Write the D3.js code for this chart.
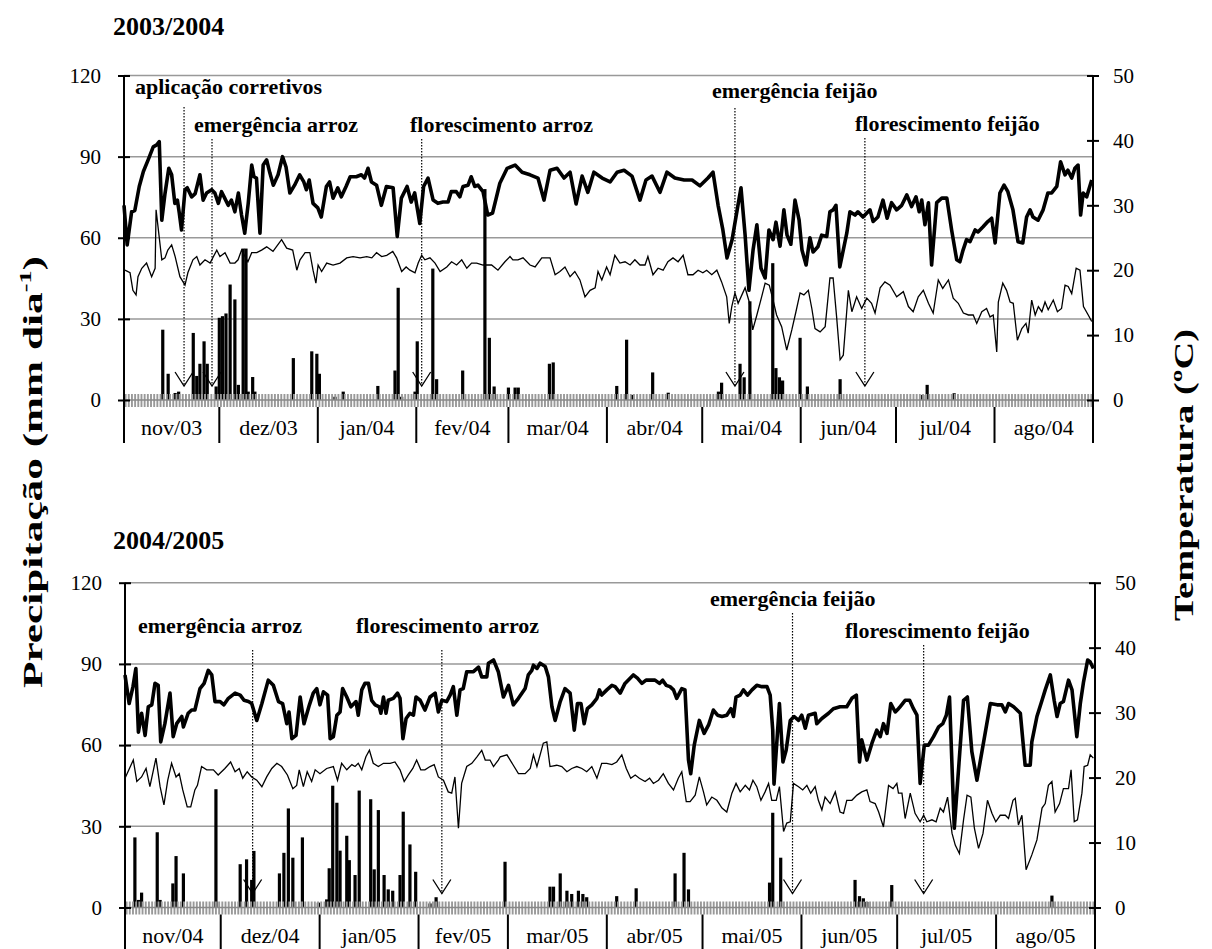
<!DOCTYPE html>
<html>
<head>
<meta charset="utf-8">
<script src="https://cdn.jsdelivr.net/npm/d3@7"></script>
<style>
  body { margin: 0; background: #fff; }
  text { font-family: "Liberation Serif", "Times New Roman", serif; fill: #000; }
</style>
</head>
<body>
<svg id="chart" width="1212" height="949"></svg>
<script>
// tick labels
const rainTicks = [0, 30, 60, 90, 120];
const tempTicks = [0, 10, 20, 30, 40, 50];
const months1 = ['nov/03', 'dez/03', 'jan/04', 'fev/04', 'mar/04', 'abr/04', 'mai/04', 'jun/04', 'jul/04', 'ago/04'];
const months2 = ['nov/04', 'dez/04', 'jan/05', 'fev/05', 'mar/05', 'abr/05', 'mai/05', 'jun/05', 'jul/05', 'ago/05'];

// 2003/2004 - [day since 1 Nov, value]
const tmax1 = [[0,30.0],[1,23.9],[2.4,29.0],[3.4,29.2],[4.8,32.9],[6.1,35.2],[7.6,37.0],[9.2,39.0],[10.3,39.3],[11.1,39.8],[11.9,27.7],[12.9,31.8],[14.1,35.7],[15,34.7],[16,30.3],[16.8,30.8],[17.4,28.8],[18.1,26.2],[19.2,32.4],[19.9,32.7],[21.3,31.3],[22.4,31.8],[23.9,34.7],[24.9,30.8],[26,31.9],[27.6,32.4],[28.6,31.9],[29.7,30.3],[30.7,32.1],[31.7,31.1],[32.8,30.0],[33.8,30.8],[34.9,29.0],[36,31.9],[37,28.5],[38,25.7],[39.1,30.3],[40.2,36.2],[40.9,34.4],[41.7,34.2],[42.8,25.7],[43.8,36.2],[44.9,37.0],[45.9,35.0],[47,33.1],[48.5,34.7],[49.9,37.5],[51,35.9],[52.2,31.9],[53.7,33.1],[55.3,34.7],[56.6,33.6],[57.4,32.4],[58.3,33.9],[59.5,30.3],[61,29.6],[62.1,28.2],[63.7,32.9],[64.7,33.6],[65.8,31.1],[67.3,32.7],[68.4,31.3],[69.9,32.9],[71.2,34.4],[73.1,34.4],[74.7,34.7],[75.7,34.2],[76.8,35.7],[77.9,33.6],[79.5,33.1],[81,30.0],[82.6,32.9],[84.7,32.7],[86,25.2],[87.3,31.1],[89.1,32.9],[90.4,30.5],[91.5,31.9],[93.1,27.2],[94.3,32.9],[95.7,34.2],[97.3,30.8],[98.8,30.3],[100.4,30.5],[102,30.5],[103,32.1],[104.6,32.1],[105.7,31.3],[106.7,32.9],[108.3,33.1],[109.3,34.4],[110.4,32.9],[111.4,33.1],[113,32.1],[114.5,28.5],[116,28.8],[118.3,33.4],[120.6,35.7],[123.1,36.2],[125.3,35.1],[127.8,34.7],[130.3,34.2],[132.2,30.8],[134.1,35.4],[136.3,35.7],[138.5,34.2],[140.4,35.1],[142.3,30.2],[144.2,34.5],[146,32.0],[147.9,35.1],[150.5,34.2],[153,33.6],[155.2,35.1],[157.4,35.4],[159.9,34.5],[162.4,30.8],[164.3,33.9],[166.2,34.5],[168.7,32.0],[170.9,35.1],[173.4,34.2],[176.3,33.9],[178.8,33.9],[181.3,33.0],[183.8,34.2],[185.4,35.1],[187,30.0],[188.5,26.2],[189.8,21.9],[191.4,24.7],[193,29.3],[194.2,32.7],[195.5,25.4],[196.7,16.9],[198,23.1],[199.2,27.0],[200.5,20.3],[201.8,18.8],[203,26.2],[204.3,24.7],[205.2,27.4],[206.5,23.7],[207.7,29.3],[208.7,25.4],[209.9,24.0],[211.2,30.8],[212.5,27.7],[213.4,23.1],[214.7,20.8],[215.9,25.0],[216.9,22.8],[218.4,23.6],[219.6,25.4],[221.2,25.2],[222.2,29.0],[223.2,29.3],[224.1,30.0],[225.3,20.5],[227.5,25.7],[228.5,29.0],[230.1,28.5],[231,29.0],[232.6,28.2],[234.8,29.3],[235.8,27.5],[237.3,28.2],[238.9,30.8],[240.2,28.0],[241.6,30.4],[243.2,29.3],[244.8,30.0],[246.4,31.6],[247.9,29.8],[249.3,31.3],[250.3,29.0],[251.1,30.8],[252.1,27.0],[253.2,30.4],[254.2,20.8],[255.8,30.4],[257.4,31.1],[259,31.1],[260.5,26.2],[262.1,21.6],[263.1,21.3],[264.1,23.1],[265.2,24.7],[266.3,24.4],[267.9,26.2],[268.8,25.9],[270.4,26.7],[271.9,27.5],[273.1,28.0],[274.2,24.2],[275.7,31.9],[277,33.1],[278.2,32.1],[279.8,29.3],[281.4,24.4],[282.9,24.2],[284.1,28.2],[285.2,29.3],[286.1,28.2],[287.7,27.7],[289.3,29.3],[290.8,31.9],[292,31.9],[293.6,32.9],[294.8,36.7],[296.2,34.7],[297.1,35.4],[298.3,34.2],[299.3,35.7],[300.3,36.2],[301.1,28.5],[301.9,31.9],[303,31.3],[304.6,33.9]];
const tmin1 = [[0.3,20.0],[1.9,19.6],[2.8,16.9],[3.8,16.2],[4.4,19.0],[5.6,20.3],[7.1,21.1],[8.7,19.0],[9.8,20.3],[10.1,29.3],[11.9,21.6],[12.9,21.9],[13.8,23.1],[15,23.9],[16.1,22.1],[17.6,19.0],[19.2,17.7],[20.1,19.6],[21.7,21.6],[22.9,22.1],[23.9,20.8],[25.5,21.6],[27.1,21.1],[29.2,23.1],[30.2,22.1],[31.8,22.7],[33.4,21.1],[34.9,21.1],[35.9,21.6],[37,23.1],[39,21.3],[40.2,22.7],[41.8,22.7],[43.3,23.1],[44.9,23.6],[46.9,22.9],[49.6,24.7],[51.2,23.4],[53.1,23.1],[54.4,20.0],[55.4,21.6],[57,22.7],[58.5,22.7],[59.5,20.0],[60.4,18.0],[61.1,20.8],[62.2,19.8],[63.8,21.1],[65.8,20.8],[68,21.1],[70.1,21.9],[72.1,22.1],[74.3,21.9],[76.4,22.1],[78,21.9],[79.5,22.7],[81.1,22.1],[82.7,22.3],[84.6,22.9],[85.8,21.9],[87.4,19.8],[88.8,20.5],[90,20.0],[91.6,19.6],[92.6,21.1],[93.7,22.3],[94.7,21.6],[96.3,21.9],[97.9,21.1],[99.5,19.8],[101.6,20.5],[103.1,21.3],[104.7,20.8],[106.3,21.6],[107.9,20.3],[109.4,21.1],[111,21.1],[113,20.8],[115.7,20.8],[117.7,20.0],[119.9,21.3],[121.5,22.1],[122.4,21.6],[124,21.6],[125.6,21.9],[127.8,20.8],[129.4,20.5],[131.5,21.9],[134.1,21.9],[135.7,19.3],[137.2,19.8],[138.8,20.5],[140.4,19.0],[141.9,19.8],[143.5,18.5],[145.1,15.9],[146.7,16.9],[148.3,17.3],[149.2,19.8],[150.4,18.5],[151.9,20.5],[153,19.3],[154.5,22.3],[156.1,21.1],[157.7,21.3],[159.3,20.8],[160.8,21.6],[162.4,20.8],[164,20.8],[164.9,22.1],[166.5,19.3],[168.1,20.3],[169.7,20.0],[171.2,21.3],[172.8,21.9],[174.4,21.3],[176,22.3],[177.5,19.3],[179.1,19.3],[180.7,20.0],[182.2,19.6],[183.4,20.0],[185,19.3],[186.6,20.0],[188.1,18.2],[189.7,15.9],[190.5,11.8],[191.3,14.4],[192.3,16.5],[193.3,14.9],[195.5,17.3],[196.8,15.1],[197.9,10.8],[199.2,13.1],[200.7,15.9],[201.8,18.0],[203.1,17.7],[204.3,15.4],[205.4,13.1],[207,11.3],[208.6,7.7],[210.2,10.8],[211.5,13.6],[212.8,16.5],[214,16.2],[215.4,16.9],[216.5,14.1],[217.5,11.0],[219.1,10.5],[220.7,11.3],[222.2,18.8],[223.2,18.8],[224.3,12.8],[225.4,6.2],[226.4,6.9],[228,16.9],[229.1,13.6],[230.6,15.9],[232.2,14.1],[233.8,15.7],[235.3,14.9],[236.4,13.4],[238,17.3],[239.5,18.2],[241.1,17.7],[243.2,15.9],[245.3,16.7],[246.9,14.4],[248.4,13.6],[250,15.9],[251.6,16.9],[253.2,14.9],[254.7,13.4],[256.3,18.5],[257.7,17.2],[259.5,18.5],[261,15.7],[262.6,14.9],[264.2,13.4],[265.8,13.1],[267.3,13.1],[268.4,11.8],[270,13.6],[271.5,14.1],[272.6,12.8],[273.6,13.1],[274.7,7.4],[275.2,15.1],[276.6,18.0],[277.8,16.9],[278.9,15.1],[279.9,14.9],[281.2,9.2],[282.6,11.0],[283.9,11.8],[284.6,10.3],[285.7,15.4],[286.8,13.1],[287.8,14.4],[288.9,13.6],[289.9,15.1],[290.9,13.9],[292.5,15.4],[293.8,13.6],[295.1,14.1],[296.2,17.7],[297.2,17.5],[298.3,16.4],[299.7,20.3],[300.9,20.0],[302,14.4],[303.5,13.1],[304.6,12.1]];
const rain1 = [[12.2,26],[13.9,9.7],[16.1,2.6],[17.2,3.1],[21.8,24.8],[22.9,8.9],[23.9,13.4],[25.2,21.7],[26.2,13.4],[29,5],[30,30.4],[31,31],[32.1,32],[33.4,42.7],[34.9,37.2],[36,5.6],[37.5,56],[38.4,56],[39.1,3.1],[40.5,8.5],[41.2,3.1],[53.3,15.5],[59.1,18],[60.7,17.1],[61.5,9.7],[66.4,1.2],[69,3.1],[79.9,5.2],[85.3,10.9],[86.3,41.5],[87.4,1.2],[91.6,3.1],[92.3,21.7],[97.2,48.6],[98.4,7.7],[106.6,10.9],[113.6,78],[115,23],[116.5,5],[121,4.6],[123.1,4.6],[124.1,4.6],[133.9,13.4],[135.1,13.9],[155.1,5.2],[158.2,22.3],[160.1,1.9],[166.4,10.2],[171.3,2.7],[187.1,3.1],[188.1,6.4],[193.9,13.4],[195.2,8.4],[197,36.5],[204.2,50.6],[205.2,11.8],[206.3,8.4],[207.3,7.2],[212.8,23],[215.1,5],[225.4,7.7],[251.4,1.9],[252.8,5.6],[261.3,2.5]];
const events1 = [['aplicação corretivos', 18.9], ['emergência arroz', 27.7], ['florescimento arroz', 93.7], ['emergência feijão', 192.3], ['florescimento feijão', 233.2]];

// 2004/2005
const tmax2 = [[0,35.8],[1.3,31.4],[2.5,34.0],[3.4,36.8],[4.2,27.0],[5.2,29.9],[6.3,26.5],[7.3,30.9],[8.4,31.2],[9.4,34.5],[10.4,34.2],[11.2,25.5],[12.5,28.3],[14.1,33.0],[15.1,26.3],[16.2,28.3],[17.8,29.4],[18.3,27.8],[19.8,29.9],[20.9,30.4],[21.9,30.4],[23.5,33.7],[24.8,34.5],[26.1,36.5],[27.2,35.8],[28.2,31.7],[29.8,31.7],[31,31.2],[32.4,32.2],[34.5,33.0],[36.1,32.7],[37.3,31.9],[38.7,31.7],[39.7,31.4],[41.3,28.8],[42.9,31.4],[44.9,35.0],[46.5,34.2],[48.1,31.7],[49.4,31.4],[50.7,28.3],[51.4,30.1],[52.3,26.0],[53.6,26.5],[54.9,32.4],[56.1,28.3],[57.8,31.2],[59,33.0],[60.1,33.7],[61.1,31.2],[62.2,33.2],[63.5,32.7],[64.3,26.0],[65.3,26.3],[66.4,29.6],[67.4,30.1],[68.2,33.7],[69.5,32.4],[70.8,30.9],[72.4,31.7],[73.1,29.6],[74.2,33.5],[75.2,34.5],[76.3,34.5],[77.3,31.9],[78.4,31.2],[79.7,30.9],[80.2,29.9],[81,32.4],[81.8,29.9],[82.5,31.9],[84.1,32.2],[85.4,33.0],[86.2,32.2],[87.1,26.0],[88.1,29.1],[89.3,29.9],[90.4,29.6],[91.2,32.4],[92.5,31.9],[94,30.4],[95.6,32.4],[97.2,33.0],[98.2,30.1],[99.3,31.9],[100.8,31.7],[101.9,32.7],[102.9,34.0],[104,29.6],[105,33.5],[106,33.7],[107.1,36.3],[109.2,36.3],[110.8,37.0],[111.8,35.5],[113.4,35.5],[113.9,37.6],[115.5,38.1],[117,36.3],[118.6,32.4],[120.2,34.2],[121.7,31.2],[123.3,32.2],[125.4,33.7],[126.4,35.8],[127.5,36.5],[128,37.3],[129.1,36.8],[130.1,37.6],[131.7,37.1],[132.7,35.5],[133.8,30.9],[134.8,28.8],[136.4,31.7],[137.9,33.7],[139.5,33.0],[140.8,27.3],[141.8,31.4],[142.9,31.4],[143.9,28.3],[144.9,30.6],[146.3,31.2],[147.9,32.2],[148.7,33.5],[149.4,32.7],[151,33.5],[152.6,34.2],[153.6,34.0],[155.2,33.0],[156.7,34.5],[159.3,35.8],[160.6,35.3],[162,34.5],[163.3,35.0],[164.6,35.0],[166.1,35.0],[167.5,34.5],[168.5,35.0],[169.6,34.2],[170.8,34.0],[171.9,33.5],[172.9,32.2],[174.5,33.7],[175.5,33.5],[176.6,22.7],[177.3,20.6],[178.4,25.0],[180,28.8],[181.5,26.8],[182.9,28.1],[184.4,30.4],[185.7,29.6],[187.1,29.4],[188.6,29.6],[189.9,30.6],[190.7,29.4],[191.5,32.4],[192.8,32.7],[193.8,33.5],[195.1,32.7],[196.5,33.5],[198,34.2],[199.6,34.0],[201.2,34.0],[202.2,32.7],[203,27.3],[203.4,19.0],[205.1,31.4],[206.2,22.4],[207.2,24.2],[208.5,28.8],[209.7,29.4],[211.1,28.8],[212.1,29.6],[213.2,27.6],[214.2,29.6],[216.3,29.9],[216.8,28.3],[218.4,29.1],[220.5,29.9],[222,30.6],[224.1,30.9],[226.2,30.9],[227.8,32.2],[229.2,32.7],[230.2,22.4],[230.9,25.8],[232.5,22.7],[234.1,25.3],[235.6,27.3],[236.7,26.3],[237.7,28.3],[238.8,26.8],[240,31.4],[241.4,30.1],[242.4,30.6],[242.9,30.9],[244.5,31.9],[245.9,31.9],[247.1,30.6],[248.2,29.6],[249.2,19.1],[250.5,25.0],[251.8,25.0],[253.4,26.3],[255,27.8],[256.3,28.3],[257.4,29.6],[258.4,32.4],[259.9,12.2],[262.8,31.9],[264,32.4],[265.4,24.0],[267,19.6],[270.1,28.3],[271.2,31.4],[273.3,31.2],[274.8,31.2],[275.9,30.1],[276.9,31.4],[278.5,30.9],[280.6,29.9],[282.1,21.9],[283.7,21.9],[284.2,25.5],[285.8,29.4],[287.4,31.9],[288.4,33.5],[290,35.8],[291.2,31.9],[292.1,29.4],[293.1,31.4],[294.1,31.7],[295.7,35.0],[296.8,33.5],[298.3,26.3],[299.4,31.4],[300.4,34.7],[301.7,38.1],[302.5,37.8],[303.5,36.8]];
const tmin2 = [[0,19.9],[2.6,22.7],[3.7,19.4],[5.2,20.1],[6.6,21.4],[7.8,18.6],[9.7,23.0],[11,18.6],[12.2,15.8],[13.4,19.6],[14.6,22.2],[16,20.1],[17,20.6],[18.1,18.1],[19.5,15.5],[20.6,15.5],[21.9,18.1],[22.7,18.8],[24,21.7],[25.6,21.2],[27.7,21.2],[29.2,20.4],[31.3,21.4],[33.1,22.4],[34.5,20.9],[35.8,21.4],[36.9,19.9],[38.3,20.9],[39.7,20.1],[41.3,19.6],[42.9,18.6],[44.4,20.1],[46,21.4],[47.6,22.2],[49.1,21.7],[50.9,20.4],[52.6,18.3],[53.8,18.8],[54.6,21.2],[55.9,18.6],[57.1,20.9],[58.5,19.4],[59.6,21.2],[61.1,20.6],[63.2,21.4],[65.3,21.7],[66.6,19.6],[67.9,22.2],[69.5,21.2],[71.1,22.0],[72.1,21.7],[73.1,22.2],[74.2,21.2],[75.5,23.2],[76.6,24.2],[77.8,22.2],[79.4,21.7],[81,22.2],[83.1,22.2],[84.6,22.4],[86.2,21.2],[87.5,19.4],[88.8,20.4],[90.2,21.4],[91.4,22.7],[92.7,21.2],[94,21.2],[95.6,21.7],[96.9,22.0],[98.2,20.1],[99.8,19.6],[101.3,17.8],[102.4,17.6],[103.4,20.1],[104.5,12.2],[105.5,19.1],[107.1,21.7],[108.7,22.2],[110.3,23.2],[111.8,24.2],[112.9,22.7],[114.4,22.7],[115.5,21.7],[117,22.7],[117.6,23.2],[119.7,23.5],[121.7,21.9],[123.3,20.6],[125.4,20.6],[127,21.4],[128,23.5],[129.1,21.7],[131.1,25.3],[132.2,25.5],[133.2,21.7],[135.3,21.9],[136.9,21.7],[138.5,20.9],[140,21.4],[141.6,21.7],[143.2,21.4],[144.7,20.9],[146.3,21.7],[147.9,19.9],[149.4,22.2],[151,22.2],[152.6,22.0],[154.1,22.4],[155.7,23.5],[157.1,21.4],[158.5,19.9],[159.9,20.4],[161.2,19.9],[163,19.4],[164.4,19.9],[165.6,19.1],[167.2,19.6],[168.7,20.6],[170.3,19.1],[171.9,18.1],[173.4,19.9],[174.5,20.9],[175.9,16.3],[177.1,16.3],[178.7,17.3],[180,20.1],[181.3,17.8],[182.3,15.8],[183.9,17.0],[185.5,16.5],[187.1,15.3],[188.6,14.7],[190.2,17.6],[191.5,19.1],[192.8,17.8],[194.4,18.8],[195.7,18.1],[196.8,19.6],[198,18.6],[199.3,16.5],[200.6,17.8],[201.7,19.1],[202.7,16.5],[204.1,16.5],[205.1,18.6],[206.4,11.7],[207.4,13.0],[208.5,13.2],[209.5,19.1],[211.1,18.6],[212.4,18.1],[213.7,18.8],[214.9,17.6],[216.3,18.6],[217.3,16.5],[218.4,15.0],[219.4,17.0],[221,16.0],[222.6,17.8],[224.1,14.7],[225.2,14.5],[226.2,16.5],[227.8,16.5],[229.4,17.3],[230.9,17.8],[232.5,18.1],[233.5,16.3],[235.1,16.0],[236.2,14.7],[237.7,12.4],[239.3,18.8],[240.7,18.3],[241.9,19.1],[242.4,17.6],[243.5,17.6],[244.5,13.7],[246.1,17.6],[247.6,14.5],[249.2,13.2],[250.3,14.2],[251.3,13.2],[252.9,13.5],[254.2,13.2],[255.5,15.3],[256.5,14.7],[257.8,17.0],[259.2,11.4],[260.2,9.6],[261.5,8.3],[262.8,13.5],[263.9,17.3],[265.1,17.0],[266.2,12.2],[267.5,9.1],[268.9,11.4],[270.3,16.5],[271.7,14.5],[272.9,13.2],[274.3,14.2],[275.9,14.2],[276.9,13.7],[278.3,16.5],[279,16.8],[280,12.7],[281.1,14.2],[282.4,5.8],[284.2,8.1],[285.8,10.4],[287.4,15.3],[288.4,16.0],[289.4,18.8],[290.5,19.4],[291.5,14.7],[292.9,16.0],[294.1,18.3],[295.7,18.3],[296.5,21.2],[297.5,13.2],[298.5,13.5],[299.9,17.6],[300.6,21.7],[301.7,21.9],[302.5,23.5],[303.5,23.0]];
const rain2 = [[3.1,25.9],[4.2,2.8],[5.2,5.5],[10.1,27.8],[11,2.8],[15,8.9],[16,19.0],[18.3,12.6],[28.5,43.7],[36.1,16],[38.1,17.8],[39.7,10.2],[40.4,20.9],[48.4,12.6],[49.8,20.2],[51.2,36.6],[52.6,18.4],[55.6,25.9],[60.6,1.8],[63.2,3.0],[64,14.5],[65.1,45],[66.4,38.7],[67.4,21],[69.5,26.5],[70.3,17.5],[72.1,12],[73.4,43.2],[77,40],[78.1,14.1],[79.4,36],[81.2,12],[82.5,6.7],[83.9,6.2],[86.2,12],[87.2,35.4],[89.3,23.3],[91.1,13.2],[95.6,1.5],[97.5,3.8],[119.1,16.9],[133.2,7.7],[134.3,7.7],[136.4,12.6],[138.5,6.2],[140,5],[142.1,6.2],[143.5,5],[144.7,3.8],[154.1,4.2],[160.2,7.1],[172.4,12.6],[175.2,20.2],[176.6,6.7],[202,9.2],[203,35],[205.5,18.4],[228.8,10.2],[230.2,4.2],[231.4,3.4],[232.5,2.1],[240.3,8.3],[290.5,4.4]];
const events2 = [['emergência arroz', 40.0], ['florescimento arroz', 99.3], ['emergência feijão', 209.2], ['florescimento feijão', 250.3]];

const panels = [
  { title: '2003/2004', start: new Date(2003, 10, 1), end: new Date(2004, 8, 1), months: months1,
    tmax: tmax1, tmin: tmin1, rain: rain1, events: events1,
    x0: 124, x1: 1093, top: 75.5, zero: 400, titleY: 35,
    labels: [[135, 94, 107], [194, 132, 139], [410, 132, 139], [712, 98, 108], [855, 131, 138]] },
  { title: '2004/2005', start: new Date(2004, 10, 1), end: new Date(2005, 8, 1), months: months2,
    tmax: tmax2, tmin: tmin2, rain: rain2, events: events2,
    x0: 125, x1: 1095, top: 582.7, zero: 907.5, titleY: 549,
    labels: [[138, 633, 650], [356, 633, 650], [710, 606, 613], [845, 638, 645]] }
];

const svg = d3.select('#chart');

panels.forEach(p => {
  const nDays = d3.timeDay.count(p.start, p.end);
  const x = d3.scaleLinear().domain([0, nDays]).range([p.x0, p.x1]);
  const yR = d3.scaleLinear().domain([0, 120]).range([p.zero, p.top]);
  const yT = d3.scaleLinear().domain([0, 50]).range([p.zero, p.top]);
  const g = svg.append('g');

  g.append('text').attr('x', 113).attr('y', p.titleY)
    .attr('font-size', 26).attr('font-weight', 'bold').text(p.title);

  // grid
  g.selectAll('.grid').data(rainTicks.filter(v => v > 0)).join('line')
    .attr('x1', p.x0).attr('x2', p.x1)
    .attr('y1', d => yR(d)).attr('y2', d => yR(d))
    .attr('stroke', '#999').attr('stroke-width', 1.5);

  // rain bars
  g.selectAll('.bar').data(p.rain).join('rect')
    .attr('x', d => x(d[0]) - 1.6).attr('width', 3.2)
    .attr('y', d => yR(d[1])).attr('height', d => yR(0) - yR(d[1]))
    .attr('fill', '#000');

  // daily ticks on zero line
  g.selectAll('.day').data(d3.range(nDays)).join('line')
    .attr('x1', d => x(d + 0.5)).attr('x2', d => x(d + 0.5))
    .attr('y1', p.zero - 6).attr('y2', p.zero + 7)
    .attr('stroke', '#999').attr('stroke-width', 1.9);
  g.append('line').attr('x1', p.x0).attr('x2', p.x1)
    .attr('y1', p.zero).attr('y2', p.zero)
    .attr('stroke', '#888').attr('stroke-width', 1.5);

  // temperature lines
  const line = d3.line().x(d => x(d[0])).y(d => yT(d[1]));
  g.append('path').datum(p.tmin).attr('d', line)
    .attr('fill', 'none').attr('stroke', '#000').attr('stroke-width', 1.3);
  g.append('path').datum(p.tmax).attr('d', line)
    .attr('fill', 'none').attr('stroke', '#000').attr('stroke-width', 3.6)
    .attr('stroke-linejoin', 'round');

  // axes
  const axL = g.append('g').attr('transform', `translate(${p.x0},0)`)
    .call(d3.axisLeft(yR).tickValues(rainTicks).tickSize(6).tickPadding(17));
  const axR = g.append('g').attr('transform', `translate(${p.x1},0)`)
    .call(d3.axisRight(yT).tickValues(tempTicks).tickSize(6).tickPadding(14));
  [axL, axR].forEach(ax => {
    ax.select('.domain').remove();
    ax.selectAll('.tick line').attr('stroke', '#000').attr('stroke-width', 2);
    ax.selectAll('.tick text').attr('font-size', 21)
      .attr('font-family', '"Liberation Serif", "Times New Roman", serif').attr('fill', '#000');
  });
  axL.selectAll('.tick line').attr('x1', 6);
  axR.selectAll('.tick line').attr('x1', -6);
  [p.x0, p.x1].forEach(xx => g.append('line')
    .attr('x1', xx).attr('x2', xx).attr('y1', p.top).attr('y2', p.zero + 43)
    .attr('stroke', '#000').attr('stroke-width', 2));

  // months
  const starts = d3.timeMonth.range(p.start, p.end).map(m => d3.timeDay.count(p.start, m));
  const ends = starts.slice(1).concat([nDays]);
  g.selectAll('.msep').data(starts.slice(1)).join('line')
    .attr('x1', d => x(d)).attr('x2', d => x(d))
    .attr('y1', p.zero + 7).attr('y2', p.zero + 43)
    .attr('stroke', '#000').attr('stroke-width', 2);
  g.selectAll('.mlab').data(p.months).join('text')
    .attr('x', (d, i) => x((starts[i] + ends[i]) / 2)).attr('y', p.zero + 35)
    .attr('text-anchor', 'middle').attr('font-size', 22).text(d => d);

  // phenology markers
  p.events.forEach((e, i) => {
    const [lx, ly, top] = p.labels[i];
    const ex = x(e[1]);
    const tip = p.zero - 14;
    g.append('text').attr('x', lx).attr('y', ly)
      .attr('font-size', 22).attr('font-weight', 'bold').text(e[0]);
    g.append('line').attr('x1', ex).attr('x2', ex).attr('y1', top).attr('y2', tip)
      .attr('stroke', '#000').attr('stroke-width', 1.2).attr('stroke-dasharray', '1.5,1.5');
    g.append('path').attr('d', `M${ex - 9},${tip - 14}L${ex},${tip}L${ex + 9},${tip - 14}`)
      .attr('fill', 'none').attr('stroke', '#000').attr('stroke-width', 1.3);
  });
});

// axis titles
const tl = svg.append('text').attr('transform', 'translate(42,472) rotate(-90)')
  .attr('text-anchor', 'middle').attr('font-size', 28).attr('font-weight', 'bold')
  .attr('textLength', 432).attr('lengthAdjust', 'spacingAndGlyphs');
tl.append('tspan').text('Precipitação  (mm dia');
tl.append('tspan').attr('font-size', 17).attr('dy', -11).text('-1');
tl.append('tspan').attr('dy', 11).text(')');

svg.append('text').attr('transform', 'translate(1193,475) rotate(-90)')
  .attr('text-anchor', 'middle').attr('font-size', 28).attr('font-weight', 'bold')
  .attr('textLength', 292).attr('lengthAdjust', 'spacingAndGlyphs')
  .text('Temperatura (ºC)');
</script>
</body>
</html>
